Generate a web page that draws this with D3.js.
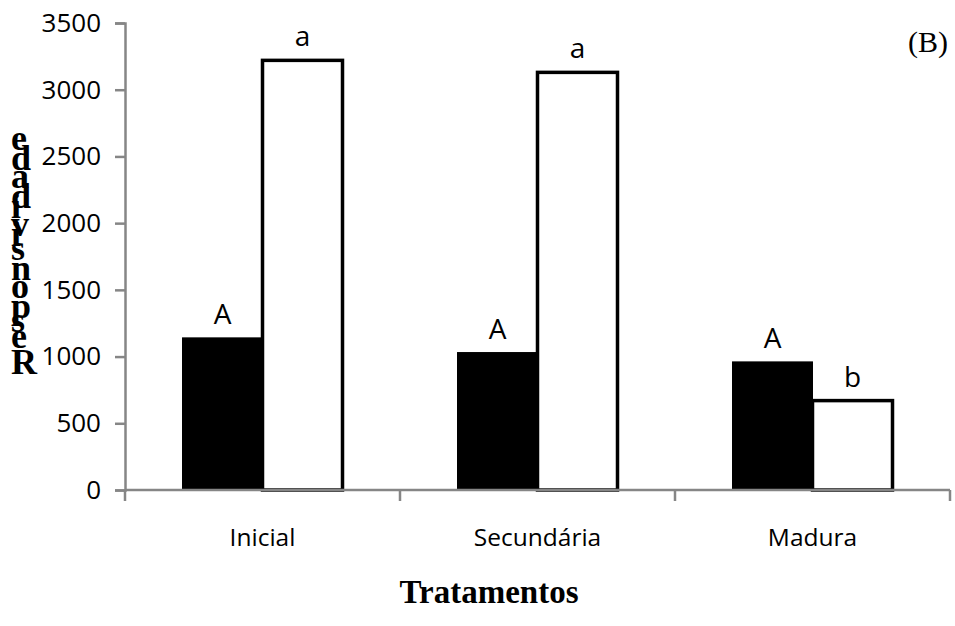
<!DOCTYPE html>
<html>
<head>
<meta charset="utf-8">
<script src="https://cdn.jsdelivr.net/npm/d3@7/dist/d3.min.js"></script>
<style>
  html, body { margin: 0; padding: 0; background: #fff; }
  svg { display: block; }
</style>
</head>
<body>
<svg id="chart" width="955" height="626"></svg>
<script>
// Treatments on the x axis and the two measured series
const categories = ["Inicial", "Secundária", "Madura"];
const seriesNames = ["s1", "s2"];
const valuesS1 = [1140, 1030, 960];
const valuesS2 = [3220, 3130, 670];
const lettersS1 = ["A", "A", "A"];
const lettersS2 = ["a", "a", "b"];
const yTicks = [0, 500, 1000, 1500, 2000, 2500, 3000, 3500];
const yLabel = "Responsividade";
const xLabel = "Tratamentos";
const panelTag = "(B)";

const svg = d3.select("#chart");
const axisColor = "#868686";
const sansFont = "'Open Sans', sans-serif";
const serifFont = "'Liberation Serif', 'Times New Roman', serif";

const plot = { left: 125, right: 950, top: 23, bottom: 490 };

const x = d3.scaleBand().domain(categories).range([plot.left, plot.right]);
const xInner = d3.scaleBand().domain(seriesNames)
  .range([57.5, x.bandwidth() - 57.5]);
const y = d3.scaleLinear().domain([0, 3500]).range([plot.bottom, plot.top]);

const rows = categories.map((c, i) => ({
  cat: c,
  bars: [
    { key: "s1", v: valuesS1[i], lab: lettersS1[i] },
    { key: "s2", v: valuesS2[i], lab: lettersS2[i] }
  ]
}));

// Bars
const groups = svg.append("g").selectAll("g").data(rows).join("g")
  .attr("transform", d => `translate(${x(d.cat)},0)`);

groups.selectAll("rect").data(d => d.bars).join("rect")
  .attr("x", d => xInner(d.key))
  .attr("width", xInner.bandwidth())
  .attr("y", d => y(d.v))
  .attr("height", d => y(0) - y(d.v))
  .attr("fill", d => d.key === "s1" ? "#000" : "#fff")
  .attr("stroke", "#000")
  .attr("stroke-width", d => d.key === "s1" ? 1 : 3.5);

// Significance letters above bars
groups.selectAll("text").data(d => d.bars).join("text")
  .attr("x", d => xInner(d.key) + xInner.bandwidth() / 2)
  .attr("y", d => y(d.v) - 14)
  .attr("text-anchor", "middle")
  .attr("font-family", sansFont)
  .attr("font-size", 28)
  .attr("fill", "#000")
  .text(d => d.lab);

// Y axis
const yAxis = svg.append("g")
  .attr("transform", `translate(${plot.left},0)`)
  .call(d3.axisLeft(y).tickValues(yTicks).tickSize(10).tickPadding(14).tickFormat(d3.format("d")));
yAxis.select(".domain").attr("stroke", axisColor).attr("stroke-width", 2.5);
yAxis.selectAll(".tick line").attr("stroke", axisColor).attr("stroke-width", 2.5);
yAxis.selectAll(".tick text")
  .attr("font-family", sansFont).attr("font-size", 26).attr("fill", "#000");

// X axis, ticks at band boundaries
const xAxisG = svg.append("g").attr("transform", `translate(0,${plot.bottom})`);
xAxisG.append("line")
  .attr("x1", plot.left).attr("x2", plot.right)
  .attr("stroke", axisColor).attr("stroke-width", 2.5);
const bounds = categories.map(c => x(c)).concat([x(categories[categories.length - 1]) + x.bandwidth()]);
xAxisG.selectAll("line.tk").data(bounds).join("line")
  .attr("class", "tk")
  .attr("x1", d => d).attr("x2", d => d)
  .attr("y1", 0).attr("y2", 11)
  .attr("stroke", axisColor).attr("stroke-width", 2.5);
xAxisG.selectAll("text").data(categories).join("text")
  .attr("x", d => x(d) + x.bandwidth() / 2)
  .attr("y", 56)
  .attr("text-anchor", "middle")
  .attr("font-family", sansFont)
  .attr("font-size", 24.5)
  .attr("fill", "#000")
  .text(d => d);

// X axis title
svg.append("text")
  .attr("x", 489).attr("y", 603)
  .attr("text-anchor", "middle")
  .attr("font-family", serifFont)
  .attr("font-weight", "bold")
  .attr("font-size", 33)
  .attr("fill", "#000")
  .text(xLabel);

// Panel tag
svg.append("text")
  .attr("x", 948).attr("y", 52)
  .attr("text-anchor", "end")
  .attr("font-family", serifFont)
  .attr("font-size", 30)
  .attr("fill", "#000")
  .text(panelTag);

// Y axis title: upright glyphs stacked bottom-to-top by advance width
const yLabFs = 36;
const chars = Array.from(yLabel);
const yLabG = svg.append("g");
let baseY = 374;
chars.forEach(ch => {
  const t = yLabG.append("text")
    .attr("x", 11)
    .attr("y", baseY)
    .attr("font-family", serifFont)
    .attr("font-weight", "bold")
    .attr("font-size", yLabFs)
    .attr("fill", "#000")
    .text(ch);
  baseY -= t.node().getComputedTextLength();
});
</script>
</body>
</html>
